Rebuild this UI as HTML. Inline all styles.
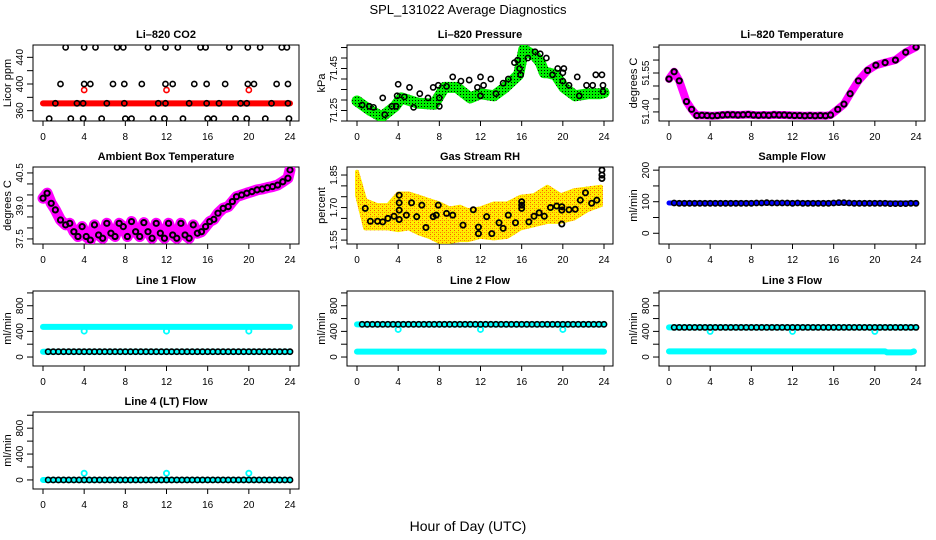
<!DOCTYPE html>
<html><head><meta charset="utf-8"><title>SPL_131022 Average Diagnostics</title>
<style>
html,body{margin:0;padding:0;background:#fff;}
svg{display:block;font-family:"Liberation Sans",Arial,sans-serif;}
</style></head>
<body>
<svg id="chart" width="936" height="540" viewBox="0 0 936 540" xmlns="http://www.w3.org/2000/svg">
<defs>
<pattern id="greenDots" width="3" height="3" patternUnits="userSpaceOnUse"><rect width="3" height="3" fill="#00ee00"/><rect x="1" y="1" width="1" height="1" fill="#000"/></pattern>
<pattern id="rhDots" width="4" height="4" patternUnits="userSpaceOnUse"><rect width="4" height="4" fill="#ffee00"/><rect x="0" y="0" width="1" height="1" fill="#ff7700"/><rect x="2" y="2" width="1" height="1" fill="#ff5500"/><rect x="2" y="0" width="1" height="1" fill="#ffaa00"/></pattern>
</defs>
<text x="468" y="14" text-anchor="middle" font-size="13">SPL_131022  Average Diagnostics</text>
<text x="468" y="531" text-anchor="middle" font-size="14">Hour of Day (UTC)</text>
</svg>
<script>
// ---------- data ----------
const xTickVals=[0,4,8,12,16,20,24];
// CO2
const co2RedHours=[0,24];
const co2RedVals=[371,371];
const co2RedOutHours=[4,12,20];
const co2RedOutVals=[391,391,391];
const co2BlackHours=[2.2,4.0,5.1,7.2,7.8,10.2,11.9,13.1,15.3,15.8,18.1,19.9,21.1,23.2,23.7,
 1.7,4.0,4.6,6.8,7.9,9.6,11.9,12.6,14.7,15.9,17.7,19.9,20.5,22.7,23.8,
 1.2,3.3,3.9,6.2,7.9,11.2,11.9,14.2,15.9,17.1,19.2,19.8,22.2,23.8,
 0.6,2.7,3.9,5.7,8.0,8.6,10.7,11.8,13.6,16.0,16.6,18.7,19.8,21.6,23.9];
const co2BlackVals=[455,455,455,455,455,455,455,455,455,455,455,455,455,455,455,
 400,400,400,400,400,400,400,400,400,400,400,400,400,400,400,
 371,371,371,371,371,371,371,371,371,371,371,371,371,371,
 348,348,348,348,348,348,348,348,348,348,348,348,348,348,348];
// Pressure
const presHours=[0,1.3,2.4,3.7,4.3,5.9,7.5,8.5,9.7,11,12,13.3,14.4,15.7,16.2,17.3,17.8,18.2,18.5,19.3,20.1,21.2,22.5,23.6,24];
const presVals=[71.295,71.25,71.22,71.27,71.31,71.285,71.28,71.36,71.36,71.31,71.33,71.32,71.36,71.42,71.54,71.51,71.48,71.43,71.43,71.42,71.36,71.32,71.33,71.33,71.335];
const presBHours=[0.5,1.2,1.6,2.5,2.7,3.4,3.8,4.0,3.9,4.6,5.1,5.5,6.1,6.9,7.4,7.9,8.0,8.0,8.7,9.3,10.1,10.9,11.7,12.0,12.0,12.3,13.0,13.5,14.2,14.7,15.3,15.6,15.8,15.9,16.6,17.3,17.8,18.4,19.0,19.5,20.1,20.0,20.0,20.6,21.4,21.6,22.3,22.9,23.2,23.8,23.9,23.9];
const presBVals=[71.276,71.27,71.265,71.31,71.23,71.27,71.27,71.375,71.32,71.315,71.36,71.265,71.33,71.31,71.36,71.37,71.27,71.31,71.365,71.41,71.39,71.395,71.36,71.41,71.32,71.37,71.40,71.33,71.38,71.40,71.478,71.49,71.45,71.42,71.50,71.53,71.52,71.50,71.42,71.45,71.45,71.43,71.39,71.37,71.41,71.32,71.37,71.37,71.42,71.42,71.37,71.34];
// Li-820 temperature
const tempHours=[0,0.5,1.0,1.7,2.2,2.7,3.2,3.7,4.2,4.7,5.2,5.7,6.2,6.7,7.2,7.7,8.2,8.7,9.2,9.7,10.2,10.7,11.2,11.7,12.2,12.7,13.2,13.7,14.2,14.7,15.2,15.7,16.4,17.0,17.6,18.4,19.3,20.1,21.0,22.0,23.0,24.0];
const tempVals=[51.527,51.555,51.52,51.44,51.41,51.386,51.387,51.386,51.385,51.386,51.388,51.389,51.389,51.388,51.389,51.39,51.388,51.387,51.388,51.387,51.389,51.388,51.388,51.387,51.386,51.386,51.385,51.386,51.385,51.386,51.385,51.388,51.41,51.43,51.47,51.52,51.56,51.58,51.59,51.60,51.63,51.65];
// Ambient box temperature
const ambHours=[0,0.4,0.8,1.2,1.7,2.2,2.6,3.0,3.4,3.8,4.2,4.6,5.0,5.4,5.8,6.2,6.6,7.0,7.4,7.8,8.2,8.6,9.0,9.4,9.8,10.2,10.6,11.0,11.4,11.8,12.2,12.6,13.0,13.4,13.8,14.2,14.6,15.0,15.4,15.8,16.2,16.6,17.0,17.5,18.0,18.4,18.8,19.3,19.8,20.3,20.8,21.3,21.8,22.3,22.8,23.3,23.8,24.0];
const ambVals=[39.35,39.58,39.12,38.82,38.36,38.14,38.21,37.83,37.61,38.06,37.61,37.45,38.14,37.68,37.53,38.21,37.76,37.61,38.21,38.06,37.61,38.29,37.83,37.61,38.24,37.83,37.53,38.21,37.76,37.53,38.21,37.68,37.53,38.21,37.68,37.53,38.14,37.76,37.83,38.06,38.29,38.39,38.67,38.89,38.97,39.2,39.42,39.5,39.58,39.65,39.73,39.77,39.83,39.88,39.95,40.1,40.26,40.64];
// Gas stream RH
const rhHours=[0,0.8,2,3,4,5,6,7,8,9,10,10.8,12,13.3,14.6,15.9,17.2,18.5,19.8,21.1,22.4,23.7];
const rhLow=[1.757,1.604,1.604,1.604,1.596,1.604,1.581,1.565,1.542,1.542,1.55,1.55,1.565,1.558,1.565,1.604,1.619,1.634,1.634,1.65,1.688,1.711];
const rhHigh=[1.865,1.734,1.711,1.711,1.765,1.765,1.75,1.734,1.719,1.696,1.704,1.688,1.696,1.719,1.719,1.75,1.757,1.796,1.757,1.78,1.788,1.796];
const rhBHours=[0.8,1.3,2.0,2.5,3.0,3.6,4.1,4.1,4.1,4.1,4.8,5.3,5.8,6.3,6.7,7.4,7.7,7.9,8.7,9.3,10.3,11.3,11.8,11.8,12.6,13.1,13.8,14.2,14.7,15.4,16.0,16.0,16.0,16.7,17.2,17.7,18.2,18.8,19.4,19.9,19.9,19.9,20.6,21.2,21.7,22.2,22.8,23.3,23.8,23.8,23.8];
const rhBVals=[1.696,1.637,1.637,1.634,1.65,1.66,1.757,1.722,1.688,1.645,1.665,1.722,1.658,1.711,1.608,1.658,1.665,1.711,1.673,1.665,1.619,1.69,1.61,1.58,1.658,1.58,1.63,1.604,1.665,1.63,1.727,1.711,1.696,1.634,1.66,1.676,1.66,1.70,1.707,1.704,1.688,1.624,1.69,1.692,1.734,1.768,1.72,1.734,1.873,1.85,1.834];
// Flows (shared sample hours for instrument circles)
const flowHours=[0.5,1,1.5,2,2.5,3,3.5,4,4.5,5,5.5,6,6.5,7,7.5,8,8.5,9,9.5,10,10.5,11,11.5,12,12.5,13,13.5,14,14.5,15,15.5,16,16.5,17,17.5,18,18.5,19,19.5,20,20.5,21,21.5,22,22.5,23,23.5,24];
const sampleBandHours=[0,24];
const sampleBandVals=[96,96];
const sampleVals=[96,95,95,95,95,95,95,95,95,95,95,95,95,95,95,95,96,96,97,96,96,96,96,95,96,95,95,95,95,95,95,96,97,97,96,95,95,95,95,95,95,95,94,94,94,94,95,95];
const line1HighHours=[0,24];
const line1HighVals=[470,470];
const line1LowHours=[0,24];
const line1LowVals=[83,83];
const line1OutHours=[4,12,20];
const line1OutVals=[405,405,405];
const line1Vals=[83,83,83,83,83,83,83,83,83,83,83,83,83,83,83,83,83,83,83,83,83,83,83,83,83,83,83,83,83,83,83,83,83,83,83,83,83,83,83,83,83,83,83,83,83,83,83,83];
const line2HighHours=[0,24];
const line2HighVals=[510,510];
const line2LowHours=[0,24];
const line2LowVals=[85,85];
const line2OutHours=[4,12,20];
const line2OutVals=[430,430,430];
const line2Vals=[510,510,510,510,510,510,510,510,510,510,510,510,510,510,510,510,510,510,510,510,510,510,510,510,510,510,510,510,510,510,510,510,510,510,510,510,510,510,510,510,510,510,510,510,510,510,510,510];
const line3HighHours=[0,24];
const line3HighVals=[462,462];
const line3LowHours=[0,21,21.2,23.5,23.8];
const line3LowVals=[88,88,72,72,88];
const line3OutHours=[4,12,20];
const line3OutVals=[400,400,400];
const line3Vals=[462,462,462,462,462,462,462,462,462,462,462,462,462,462,462,462,462,462,462,462,462,462,462,462,462,462,462,462,462,462,462,462,462,462,462,462,462,462,462,462,462,462,462,462,462,462,462,462];
const line4BandHours=[0,24];
const line4BandVals=[0,0];
const line4OutHours=[4,12,20];
const line4OutVals=[103,103,103];
const line4Vals=[0,0,0,0,0,0,0,0,0,0,0,0,0,0,0,0,0,0,0,0,0,0,0,0,0,0,0,0,0,0,0,0,0,0,0,0,0,0,0,0,0,0,0,0,0,0,0,0];

// ---------- drawing ----------
const NS='http://www.w3.org/2000/svg';
const svg=document.getElementById('chart');
const colLeft=[33,347,659];
const rowTop=[45,167,291,412];
const rowBottom=[121,244,366,489];
function mk(tag,attrs,parent){
  const e=document.createElementNS(NS,tag);
  for(const k in attrs) e.setAttribute(k,attrs[k]);
  parent.appendChild(e);
  return e;
}
function makePanel(name,col,row,title,ylab,ymin,ymax,yticks,ylabels){
  const left=colLeft[col], right=left+266, top=rowTop[row], bottom=rowBottom[row];
  const g=mk('g',{},svg);
  
  
  const sx=h=>left+10+h*247/24;
  const sy=v=>bottom-(v-ymin)/(ymax-ymin)*(bottom-top);
  const box=mk('rect',{x:left,y:top,width:right-left,height:bottom-top,fill:'none',stroke:'#000','stroke-width':1},g);
  
  
  const t=mk('text',{x:(left+right)/2,y:top-7,'text-anchor':'middle','font-size':11,'font-weight':'bold'},g);
  t.textContent=title;
  
  
  const yl=mk('text',{transform:'translate('+(left-22)+','+((top+bottom)/2)+') rotate(-90)','text-anchor':'middle','font-size':11},g);
  yl.textContent=ylab;
  
  
  const xa=mk('line',{x1:sx(0),x2:sx(24),y1:bottom,y2:bottom,stroke:'#000'},g);
  
  
  xTickVals.forEach(v=>{
    const tk=mk('line',{x1:sx(v),x2:sx(v),y1:bottom,y2:bottom+5,stroke:'#000'},g);
    
    
    const tl=mk('text',{x:sx(v),y:bottom+19,'text-anchor':'middle','font-size':10},g);
    tl.textContent=String(v);
    
    
  });
  yticks.forEach(v=>{
    const tk=mk('line',{x1:left-6,x2:left,y1:sy(v),y2:sy(v),stroke:'#000'},g);
    
    
  });
  ylabels.forEach(lb=>{
    const tl=mk('text',{transform:'translate('+(left-10)+','+sy(parseFloat(lb))+') rotate(-90)','text-anchor':'middle','font-size':10},g);
    tl.textContent=lb;
    
    
  });
  const clipId='clip-'+name;
  const cp=mk('clipPath',{id:clipId},svg);
  mk('rect',{x:left,y:top,width:right-left,height:bottom-top},cp);
  const data=mk('g',{'clip-path':'url(#'+clipId+')'},g);
  
  
  return {g:data,sx,sy};
}
function band(p,hours,vals,color,width,name){
  const pts=hours.map((h,i)=>p.sx(h)+','+p.sy(vals[i])).join(' ');
  const e=mk('polyline',{points:pts,fill:'none',stroke:color,'stroke-width':width,'stroke-linejoin':'round','stroke-linecap':'round'},p.g);
  
  
}
function area(p,hours,low,high,fill,name){
  const up=hours.map((h,i)=>p.sx(h)+','+p.sy(high[i]));
  const dn=hours.map((h,i)=>p.sx(h)+','+p.sy(low[i])).reverse();
  const e=mk('polygon',{points:up.concat(dn).join(' '),fill:fill,stroke:fill,'stroke-width':4,'stroke-linejoin':'round'},p.g);
  
  
}
function circles(p,hours,vals,color,name,sw){
  hours.forEach((h,i)=>{
    const c=mk('circle',{cx:p.sx(h),cy:p.sy(vals[i]),r:2.6,fill:'none',stroke:color,'stroke-width':sw||1.6},p.g);
    
    
  });
}

// Li-820 CO2
let p=makePanel('co2',0,0,'Li\u2013820 CO2','Licor ppm',344.5,458.5,[360,380,400,420,440],['360','400','440']);
band(p,co2RedHours,co2RedVals,'#ff0000',6,'co2-red-series');
circles(p,co2RedOutHours,co2RedOutVals,'#ff0000','co2-red-point');
circles(p,co2BlackHours,co2BlackVals,'#000','co2-black-point');

// Pressure
p=makePanel('pressure',1,0,'Li\u2013820 Pressure','kPa',71.20,71.562,[71.20,71.25,71.30,71.35,71.40,71.45,71.50,71.55],['71.25','71.45']);
band(p,presHours,presVals,'url(#greenDots)',11,'pressure-green-series');
circles(p,presBHours,presBVals,'#000','pressure-black-point');

// Li-820 Temperature
p=makePanel('li820-temp',2,0,'Li\u2013820 Temperature','degrees C',51.365,51.658,[51.40,51.45,51.50,51.55,51.60,51.65],['51.40','51.55']);
band(p,tempHours,tempVals,'#ff00ff',8,'li820-temp-magenta-series');
circles(p,tempHours,tempVals,'#000','li820-temp-black-point',2);

// Ambient box temperature
p=makePanel('ambient-temp',0,1,'Ambient Box Temperature','degrees C',37.27,40.77,[37.5,38.0,38.5,39.0,39.5,40.0,40.5],['37.5','39.0','40.5']);
band(p,ambHours,ambVals,'#ff00ff',11,'ambient-temp-magenta-series');
circles(p,ambHours,ambVals,'#000','ambient-temp-black-point',2);

// Gas stream RH
p=makePanel('gas-rh',1,1,'Gas Stream RH','percent',1.532,1.887,[1.55,1.60,1.65,1.70,1.75,1.80,1.85],['1.55','1.70','1.85']);
area(p,rhHours,rhLow,rhHigh,'url(#rhDots)','gas-rh-band-series');
circles(p,rhBHours,rhBVals,'#000','gas-rh-black-point',1.8);

// Sample flow
p=makePanel('sample-flow',2,1,'Sample Flow','ml/min',-34,210,[0,50,100,150,200],['0','100','200']);
band(p,sampleBandHours,sampleBandVals,'#0000ff',5,'sample-flow-blue-series');
circles(p,flowHours,sampleVals,'#000','sample-flow-black-point');

const flowTicks=[0,200,400,600,800,1000];
const flowLabels=['0','400','800'];
// Line 1
p=makePanel('line1-flow',0,2,'Line 1 Flow','ml/min',-140,1030,flowTicks,flowLabels);
band(p,line1HighHours,line1HighVals,'#00ffff',6,'line1-cyan-upper-series');
band(p,line1LowHours,line1LowVals,'#00ffff',6,'line1-cyan-lower-series');
circles(p,line1OutHours,line1OutVals,'#00ffff','line1-cyan-point',1.8);
circles(p,flowHours,line1Vals,'#000','line1-black-point');
// Line 2
p=makePanel('line2-flow',1,2,'Line 2 Flow','ml/min',-140,1030,flowTicks,flowLabels);
band(p,line2HighHours,line2HighVals,'#00ffff',6,'line2-cyan-upper-series');
band(p,line2LowHours,line2LowVals,'#00ffff',6,'line2-cyan-lower-series');
circles(p,line2OutHours,line2OutVals,'#00ffff','line2-cyan-point',1.8);
circles(p,flowHours,line2Vals,'#000','line2-black-point');
// Line 3
p=makePanel('line3-flow',2,2,'Line 3 Flow','ml/min',-140,1030,flowTicks,flowLabels);
band(p,line3HighHours,line3HighVals,'#00ffff',6,'line3-cyan-upper-series');
band(p,line3LowHours,line3LowVals,'#00ffff',6,'line3-cyan-lower-series');
circles(p,line3OutHours,line3OutVals,'#00ffff','line3-cyan-point',1.8);
circles(p,flowHours,line3Vals,'#000','line3-black-point');
// Line 4
p=makePanel('line4-flow',0,3,'Line 4 (LT) Flow','ml/min',-140,1050,flowTicks,flowLabels);
band(p,line4BandHours,line4BandVals,'#00ffff',6,'line4-cyan-series');
circles(p,line4OutHours,line4OutVals,'#00ffff','line4-cyan-point',1.8);
circles(p,flowHours,line4Vals,'#000','line4-black-point');
</script>
</body></html>
